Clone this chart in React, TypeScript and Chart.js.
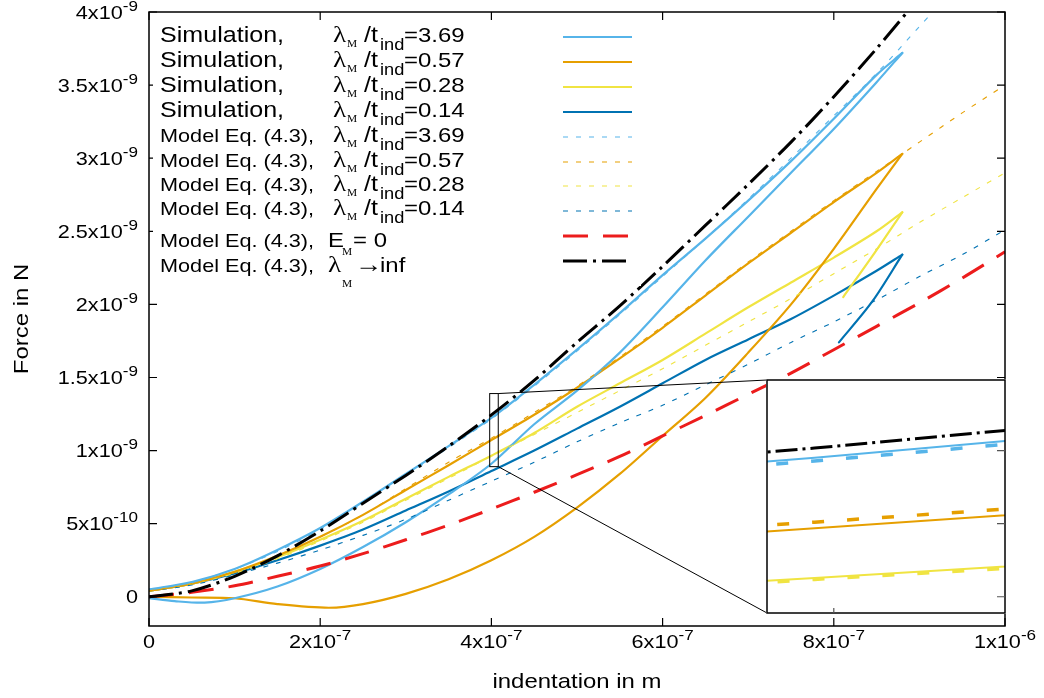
import React, { useEffect, useRef } from 'react';
import { Chart, registerables } from 'chart.js';

Chart.register(...registerables);

// ---- data: indentation in nm, force in nN ----
const X_LOAD = [0, 50, 100, 150, 200, 250, 300, 350, 400, 450, 500, 550, 600, 650, 700, 750, 800, 850, 880];
const X_MODEL = [0, 50, 100, 150, 200, 250, 300, 350, 400, 450, 500, 550, 600, 650, 700, 750, 800, 850, 900, 950, 1000];

// simulations: loading branch on X_LOAD, unloading branch on its own grid
const SIM_369_LOAD = [0.05, 0.10, 0.19, 0.32, 0.47, 0.65, 0.84, 1.03, 1.223, 1.45, 1.69, 1.94, 2.20, 2.45, 2.71, 2.98, 3.27, 3.57, 3.72];
const SIM_369_UNLOAD_X = [880, 850, 800, 750, 700, 650, 600, 550, 500, 450, 400, 350, 300, 250, 200, 150, 100, 65, 30, 0];
const SIM_369_UNLOAD = [3.72, 3.52, 3.20, 2.90, 2.60, 2.30, 1.98, 1.67, 1.41, 1.18, 0.91, 0.70, 0.51, 0.34, 0.19, 0.07, -0.01, -0.04, -0.03, -0.01];

const SIM_057_LOAD = [0.04, 0.09, 0.17, 0.28, 0.41, 0.56, 0.73, 0.90, 1.072, 1.245, 1.43, 1.63, 1.84, 2.06, 2.28, 2.49, 2.70, 2.90, 3.03];
const SIM_057_UNLOAD_X = [880, 850, 800, 750, 700, 650, 600, 550, 500, 450, 400, 350, 300, 250, 210, 150, 100, 50, 0];
const SIM_057_UNLOAD = [3.03, 2.79, 2.38, 2.00, 1.67, 1.36, 1.10, 0.84, 0.61, 0.41, 0.25, 0.12, 0.02, -0.05, -0.075, -0.05, -0.01, -0.005, 0.0];

const SIM_028_LOAD = [0.04, 0.09, 0.17, 0.27, 0.39, 0.52, 0.67, 0.82, 0.965, 1.12, 1.30, 1.46, 1.62, 1.80, 1.98, 2.15, 2.32, 2.50, 2.63];
const SIM_028_UNLOAD_X = [880, 845, 811];
const SIM_028_UNLOAD = [2.63, 2.33, 2.05];

const SIM_014_LOAD = [0.04, 0.09, 0.16, 0.25, 0.35, 0.46, 0.59, 0.72, 0.86, 1.00, 1.15, 1.30, 1.46, 1.62, 1.76, 1.90, 2.06, 2.23, 2.34];
const SIM_014_UNLOAD_X = [880, 845, 806];
const SIM_014_UNLOAD = [2.34, 2.02, 1.74];

// model Eq. (4.3) on X_MODEL
const MODEL_369 = [0.05, 0.10, 0.19, 0.31, 0.46, 0.64, 0.83, 1.02, 1.216, 1.44, 1.68, 1.93, 2.19, 2.45, 2.72, 3.00, 3.29, 3.58, 3.90, 4.22];
const MODEL_057 = [0.04, 0.09, 0.17, 0.28, 0.41, 0.56, 0.74, 0.92, 1.085, 1.26, 1.44, 1.64, 1.85, 2.07, 2.29, 2.50, 2.71, 2.91, 3.11, 3.31, 3.50];
const MODEL_028 = [0.04, 0.09, 0.16, 0.26, 0.38, 0.51, 0.66, 0.81, 0.962, 1.11, 1.26, 1.41, 1.56, 1.72, 1.88, 2.04, 2.21, 2.38, 2.56, 2.73, 2.90];
const MODEL_014 = [0.04, 0.08, 0.15, 0.23, 0.32, 0.42, 0.53, 0.66, 0.79, 0.92, 1.06, 1.19, 1.31, 1.45, 1.59, 1.74, 1.88, 2.03, 2.19, 2.34, 2.51];
const MODEL_EM0 = [0, 0.03, 0.075, 0.14, 0.21, 0.295, 0.39, 0.49, 0.60, 0.715, 0.835, 0.96, 1.10, 1.24, 1.385, 1.53, 1.69, 1.85, 2.01, 2.18, 2.36];
const MODEL_INF = [0, 0.04, 0.14, 0.28, 0.45, 0.64, 0.83, 1.03, 1.244, 1.48, 1.74, 1.99, 2.26, 2.54, 2.82, 3.11, 3.42, 3.75, 4.10];

const RATIOS = ['3.69', '0.57', '0.28', '0.14'];

// axis ticks (SI units) and their labels
const X_TICKS = [0, 2e-7, 4e-7, 6e-7, 8e-7, 1e-6];
const X_TICK_MANT = ['0', '2x10', '4x10', '6x10', '8x10', '1x10'];
const X_TICK_EXP = ['', '-7', '-7', '-7', '-7', '-6'];
const Y_TICKS = [0, 5e-10, 1e-9, 1.5e-9, 2e-9, 2.5e-9, 3e-9, 3.5e-9, 4e-9];
const Y_TICK_MANT = ['0', '5x10', '1x10', '1.5x10', '2x10', '2.5x10', '3x10', '3.5x10', '4x10'];
const Y_TICK_EXP = ['', '-10', '-9', '-9', '-9', '-9', '-9', '-9', '-9'];

// magnified window (nm, nN)
const ZOOM_X = [398, 408];
const ZOOM_Y = [0.89, 1.39];

// ---- layout & style ----
const W = 1044;
const H = 698;
const INSET = { left: 767, top: 380, right: 1005, bottom: 613 };
const NM = 1e-9;
const TICK = 8;

const C_LB = '#56b4e9';
const C_OR = '#e69f00';
const C_YE = '#f0e442';
const C_DB = '#0072b2';
const C_RED = '#ec1c1c';

const SANS = '"Liberation Sans", Arial, sans-serif';
const SERIF = '"Liberation Serif", "Times New Roman", serif';
const STRETCH = 1.14;

type Piece = { t: string; size: number; serif?: boolean; dy?: number; x?: number };

function pts(xs: number[], ys: number[]) {
  return ys.map((y, i) => ({ x: xs[i] * NM, y: y * NM }));
}

function fontOf(p: Piece) {
  return `${p.size}px ${p.serif ? SERIF : SANS}`;
}

function drawPieces(ctx: CanvasRenderingContext2D, pieces: Piece[], x: number, y: number, align: 'left' | 'right' | 'center' = 'left') {
  const widths = pieces.map((p) => {
    ctx.font = fontOf(p);
    return ctx.measureText(p.t).width * STRETCH;
  });
  const total = widths.reduce((a, b) => a + b, 0);
  let cx = align === 'left' ? x : align === 'right' ? x - total : x - total / 2;
  pieces.forEach((p, i) => {
    if (p.x !== undefined) cx = p.x;
    ctx.save();
    ctx.font = fontOf(p);
    ctx.fillStyle = '#000';
    ctx.textAlign = 'left';
    ctx.textBaseline = 'alphabetic';
    ctx.translate(cx, y + (p.dy || 0));
    ctx.scale(STRETCH, 1);
    ctx.fillText(p.t, 0, 0);
    ctx.restore();
    cx += widths[i];
  });
}

type Style = { color: string; width: number; dash: number[] };

const SIM_STYLE = (c: string): Style => ({ color: c, width: 2.2, dash: [] });
const MODEL_STYLE = (c: string): Style => ({ color: c, width: 1.1, dash: [5, 8] });
const RED_STYLE: Style = { color: C_RED, width: 3, dash: [25, 15] };
const BLACK_STYLE: Style = { color: '#000', width: 3, dash: [24, 6, 3, 6] };

function ds(data: { x: number; y: number }[], s: Style, tension = 0) {
  return {
    data,
    borderColor: s.color,
    borderWidth: s.width,
    borderDash: s.dash,
    borderCapStyle: s.dash.length ? 'butt' : 'round',
    borderJoinStyle: 'round',
    showLine: true,
    pointRadius: 0,
    pointHoverRadius: 0,
    fill: false,
    tension,
    clip: 0,
  };
}

// legend rows: baseline of text and height of the sample line
const LEGEND_BASE = [42, 67, 92, 117, 142, 167, 191, 215, 247, 272];
const LEGEND_SAMPLE_Y = [37, 62, 87, 112, 137, 162, 186, 211, 236, 261];
const SIM_COLORS = [C_LB, C_OR, C_YE, C_DB];

function ratioPieces(r: string): Piece[] {
  return [
    { t: 'λ', size: 24, serif: true, x: 333 },
    { t: 'M', size: 10, serif: true, dy: 5, x: 347 },
    { t: '/t', size: 22, x: 364 },
    { t: 'ind', size: 16, dy: 8, x: 380 },
    { t: '=' + r, size: 21, x: 404 },
  ];
}

function drawLegend(ctx: CanvasRenderingContext2D) {
  ctx.save();
  ctx.fillStyle = '#fff';
  ctx.fillRect(153, 24, 488, 262);
  const rows: { pieces: Piece[]; style: Style }[] = [];
  RATIOS.forEach((r, i) => rows.push({ pieces: [{ t: 'Simulation,', size: 22, x: 160 }, ...ratioPieces(r)], style: SIM_STYLE(SIM_COLORS[i]) }));
  RATIOS.forEach((r, i) => rows.push({ pieces: [{ t: 'Model Eq. (4.3),', size: 19, x: 160 }, ...ratioPieces(r)], style: MODEL_STYLE(SIM_COLORS[i]) }));
  rows.push({
    pieces: [
      { t: 'Model Eq. (4.3),', size: 19, x: 160 },
      { t: 'E', size: 21, x: 328 },
      { t: 'M', size: 10, serif: true, dy: 8, x: 342 },
      { t: '= 0', size: 21, x: 353 },
    ],
    style: RED_STYLE,
  });
  rows.push({
    pieces: [
      { t: 'Model Eq. (4.3),', size: 19, x: 160 },
      { t: 'λ', size: 24, serif: true, x: 328 },
      { t: 'M', size: 10, serif: true, dy: 15, x: 342 },
      { t: '→', size: 24, x: 355, dy: 0 },
      { t: 'inf', size: 21, x: 380 },
    ],
    style: BLACK_STYLE,
  });
  rows.forEach((row, i) => {
    drawPieces(ctx, row.pieces, 160, LEGEND_BASE[i]);
    ctx.beginPath();
    ctx.strokeStyle = row.style.color;
    ctx.lineWidth = row.style.width;
    ctx.setLineDash(row.style.dash);
    ctx.moveTo(563, LEGEND_SAMPLE_Y[i]);
    ctx.lineTo(632, LEGEND_SAMPLE_Y[i]);
    ctx.stroke();
  });
  ctx.restore();
}

const decor = {
  id: 'decor',
  afterDraw(chart: any) {
    const { ctx, chartArea: a, scales } = chart;
    const sx = scales.x;
    const sy = scales.y;
    ctx.save();
    ctx.setLineDash([]);
    ctx.strokeStyle = '#000';

    // magnified window and its connectors
    const zl = sx.getPixelForValue(ZOOM_X[0] * NM);
    const zr = sx.getPixelForValue(ZOOM_X[1] * NM);
    const zt = sy.getPixelForValue(ZOOM_Y[1] * NM);
    const zb = sy.getPixelForValue(ZOOM_Y[0] * NM);
    ctx.lineWidth = 1;
    ctx.strokeRect(zl, zt, zr - zl, zb - zt);
    ctx.beginPath();
    ctx.moveTo(zr, zt);
    ctx.lineTo(INSET.left, INSET.top);
    ctx.moveTo(zr, zb);
    ctx.lineTo(INSET.left, INSET.bottom);
    ctx.stroke();

    // frame and inward ticks on all sides
    ctx.lineWidth = 1.5;
    ctx.strokeRect(a.left, a.top, a.right - a.left, a.bottom - a.top);
    ctx.lineWidth = 1.2;
    ctx.beginPath();
    X_TICKS.forEach((v) => {
      const px = sx.getPixelForValue(v);
      ctx.moveTo(px, a.bottom);
      ctx.lineTo(px, a.bottom - TICK);
      ctx.moveTo(px, a.top);
      ctx.lineTo(px, a.top + TICK);
    });
    Y_TICKS.forEach((v) => {
      const py = sy.getPixelForValue(v);
      ctx.moveTo(a.left, py);
      ctx.lineTo(a.left + TICK, py);
      ctx.moveTo(a.right, py);
      ctx.lineTo(a.right - TICK, py);
    });
    ctx.stroke();

    // tick labels
    X_TICKS.forEach((v, i) => {
      const px = sx.getPixelForValue(v);
      const pieces: Piece[] = [{ t: X_TICK_MANT[i], size: 19 }];
      if (X_TICK_EXP[i]) pieces.push({ t: X_TICK_EXP[i], size: 15, dy: -8 });
      drawPieces(ctx, pieces, px, a.bottom + 22, 'center');
    });
    Y_TICKS.forEach((v, i) => {
      const py = sy.getPixelForValue(v);
      const pieces: Piece[] = [{ t: Y_TICK_MANT[i], size: 19 }];
      if (Y_TICK_EXP[i]) pieces.push({ t: Y_TICK_EXP[i], size: 15, dy: -8 });
      drawPieces(ctx, pieces, a.left - 11, py + 6.5, 'right');
    });

    // axis titles
    drawPieces(ctx, [{ t: 'indentation in m', size: 21 }], (a.left + a.right) / 2, 688, 'center');
    ctx.save();
    ctx.translate(28, (a.top + a.bottom) / 2);
    ctx.rotate(-Math.PI / 2);
    drawPieces(ctx, [{ t: 'Force in N', size: 21 }], 0, 0, 'center');
    ctx.restore();

    drawLegend(ctx);
    ctx.restore();
  },
};

function mainConfig(): any {
  const T = 0.3;
  const datasets = [
    ds(pts(X_MODEL, MODEL_INF), BLACK_STYLE, T),
    ds(pts(X_MODEL, MODEL_EM0), RED_STYLE, T),
    ds(pts(X_MODEL, MODEL_369), MODEL_STYLE(C_LB), T),
    ds(pts(X_MODEL, MODEL_057), MODEL_STYLE(C_OR), T),
    ds(pts(X_MODEL, MODEL_028), MODEL_STYLE(C_YE), T),
    ds(pts(X_MODEL, MODEL_014), MODEL_STYLE(C_DB), T),
    ds(pts(X_LOAD, SIM_369_LOAD), SIM_STYLE(C_LB), T),
    ds(pts(SIM_369_UNLOAD_X, SIM_369_UNLOAD), SIM_STYLE(C_LB), T),
    ds(pts(X_LOAD, SIM_057_LOAD), SIM_STYLE(C_OR), T),
    ds(pts(SIM_057_UNLOAD_X, SIM_057_UNLOAD), SIM_STYLE(C_OR), T),
    ds(pts(X_LOAD, SIM_028_LOAD), SIM_STYLE(C_YE), T),
    ds(pts(SIM_028_UNLOAD_X, SIM_028_UNLOAD), SIM_STYLE(C_YE), T),
    ds(pts(X_LOAD, SIM_014_LOAD), SIM_STYLE(C_DB), T),
    ds(pts(SIM_014_UNLOAD_X, SIM_014_UNLOAD), SIM_STYLE(C_DB), T),
  ];
  return {
    type: 'scatter',
    data: { datasets },
    options: {
      responsive: false,
      animation: false,
      devicePixelRatio: 1,
      events: [],
      layout: { padding: { left: 149, top: 12, right: W - INSET.right, bottom: H - 626 } },
      scales: {
        x: { type: 'linear', display: false, min: 0, max: 1e-6 },
        y: { type: 'linear', display: false, min: -2e-10, max: 4e-9 },
      },
      plugins: { legend: { display: false }, tooltip: { enabled: false } },
    },
    plugins: [decor],
  };
}

function insetConfig(main: Chart): any {
  const thick = (c: string): Style => ({ color: c, width: 3.5, dash: [12, 23] });
  const datasets = [
    ds(pts(X_MODEL, MODEL_INF), { color: '#000', width: 3, dash: [22, 5, 3, 5] }),
    ds(pts(X_LOAD, SIM_369_LOAD), { color: C_LB, width: 2, dash: [] }),
    ds(pts(X_LOAD, SIM_057_LOAD), { color: C_OR, width: 2, dash: [] }),
    ds(pts(X_LOAD, SIM_028_LOAD), { color: C_YE, width: 2, dash: [] }),
    ds(pts(X_MODEL, MODEL_369), thick(C_LB)),
    ds(pts(X_MODEL, MODEL_057), thick(C_OR)),
    ds(pts(X_MODEL, MODEL_028), thick(C_YE)),
  ];
  const frame = {
    id: 'insetFrame',
    beforeDraw(chart: any) {
      const { ctx, width, height } = chart;
      ctx.save();
      ctx.fillStyle = '#fff';
      ctx.fillRect(0, 0, width, height);
      ctx.restore();
    },
    afterDraw(chart: any) {
      const { ctx, chartArea: a } = chart;
      const ms: any = (main as any).scales;
      const ox = INSET.left - 1;
      const oy = INSET.top - 1;
      ctx.save();
      ctx.setLineDash([]);
      ctx.strokeStyle = '#000';
      ctx.lineWidth = 1.5;
      ctx.strokeRect(a.left, a.top, a.right - a.left, a.bottom - a.top);
      // mirrored y ticks of the main frame that fall on the inset edge
      ctx.lineWidth = 1.2;
      ctx.strokeStyle = '#555';
      ctx.beginPath();
      Y_TICKS.forEach((v) => {
        const py = ms.y.getPixelForValue(v) - oy;
        if (py > a.top + 2 && py < a.bottom - 2) {
          ctx.moveTo(a.right, py);
          ctx.lineTo(a.right - TICK, py);
        }
      });
      X_TICKS.forEach((v) => {
        const px = ms.x.getPixelForValue(v) - ox;
        if (px > a.left + 2 && px < a.right - 2) {
          ctx.moveTo(px, a.bottom);
          ctx.lineTo(px, a.bottom - 5);
        }
      });
      ctx.stroke();
      ctx.restore();
    },
  };
  return {
    type: 'scatter',
    data: { datasets },
    options: {
      responsive: false,
      animation: false,
      devicePixelRatio: 1,
      events: [],
      layout: { padding: 1 },
      scales: {
        x: { type: 'linear', display: false, min: ZOOM_X[0] * NM, max: ZOOM_X[1] * NM },
        y: { type: 'linear', display: false, min: ZOOM_Y[0] * NM, max: ZOOM_Y[1] * NM },
      },
      plugins: { legend: { display: false }, tooltip: { enabled: false } },
    },
    plugins: [frame],
  };
}

export default function App() {
  const mainRef = useRef<HTMLCanvasElement>(null);
  const insetRef = useRef<HTMLCanvasElement>(null);

  useEffect(() => {
    document.body.style.margin = '0';
    const main = new Chart(mainRef.current as HTMLCanvasElement, mainConfig());
    const inset = new Chart(insetRef.current as HTMLCanvasElement, insetConfig(main));
    return () => {
      inset.destroy();
      main.destroy();
    };
  }, []);

  return (
    <div style={{ position: 'relative', width: W, height: H, background: '#fff', overflow: 'hidden' }}>
      <canvas ref={mainRef} width={W} height={H} style={{ position: 'absolute', left: 0, top: 0 }} />
      <canvas
        ref={insetRef}
        width={INSET.right - INSET.left + 2}
        height={INSET.bottom - INSET.top + 2}
        style={{ position: 'absolute', left: INSET.left - 1, top: INSET.top - 1 }}
      />
    </div>
  );
}
